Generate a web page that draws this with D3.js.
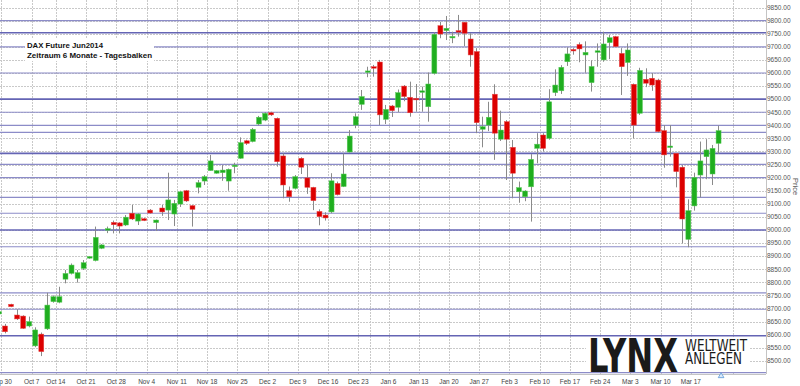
<!DOCTYPE html>
<html>
<head>
<meta charset="utf-8">
<script src="https://cdn.jsdelivr.net/npm/d3@7"></script>
<style>
  body { margin: 0; background: #fff; }
  svg { display: block; }
</style>
</head>
<body>
<div id="chart"></div>
<script>
// trading days shown (Sep 27 is cut at the left edge)
var dates = ["Sep 27","Sep 30","Oct 1","Oct 2","Oct 3","Oct 4","Oct 7","Oct 8","Oct 9","Oct 10",
  "Oct 14","Oct 15","Oct 16","Oct 17","Oct 18","Oct 21","Oct 22","Oct 23","Oct 24","Oct 25",
  "Oct 28","Oct 29","Oct 30","Oct 31","Nov 1","Nov 4","Nov 5","Nov 6","Nov 7","Nov 8",
  "Nov 11","Nov 12","Nov 13","Nov 14","Nov 15","Nov 18","Nov 19","Nov 20","Nov 21","Nov 22",
  "Nov 25","Nov 26","Nov 27","Nov 28","Nov 29","Dec 2","Dec 3","Dec 4","Dec 5","Dec 6",
  "Dec 9","Dec 10","Dec 11","Dec 12","Dec 13","Dec 16","Dec 17","Dec 18","Dec 19","Dec 20",
  "Dec 23","Dec 27","Dec 30","Jan 2","Jan 3","Jan 6","Jan 7","Jan 8","Jan 9","Jan 10",
  "Jan 13","Jan 14","Jan 15","Jan 16","Jan 17","Jan 20","Jan 21","Jan 22","Jan 23","Jan 24",
  "Jan 27","Jan 28","Jan 29","Jan 30","Jan 31","Feb 3","Feb 4","Feb 5","Feb 6","Feb 7",
  "Feb 10","Feb 11","Feb 12","Feb 13","Feb 14","Feb 17","Feb 18","Feb 19","Feb 20","Feb 21",
  "Feb 24","Feb 25","Feb 26","Feb 27","Feb 28","Mar 3","Mar 4","Mar 5","Mar 6","Mar 7",
  "Mar 10","Mar 11","Mar 12","Mar 13","Mar 14","Mar 17","Mar 18","Mar 19","Mar 20","Mar 21"];

var open = [8679,8633,8716,8675,8671,8633,8557,8602,8622,8726,
  8724,8812,8834,8815,8853,8893,8883,8930,9002,9029,
  9027,9019,9064,9034,9043,9076,9028,9084,9076,9061,
  9099,9150,9093,9163,9187,9227,9217,9219,9187,9242,
  9274,9341,9338,9405,9420,9448,9427,9283,9150,9159,
  9274,9199,9163,9071,9057,9069,9178,9166,9298,9401,
  9480,9603,9624,9642,9423,9474,9469,9550,9507,9503,
  9526,9471,9599,9781,9762,9734,9762,9794,9730,9682,
  9385,9401,9519,9347,9414,9316,9146,9127,9165,9312,
  9363,9350,9525,9532,9643,9690,9709,9669,9563,9679,
  9650,9716,9739,9675,9640,9557,9446,9576,9580,9573,
  9380,9316,9293,9240,8964,9092,9210,9280,9214,9331];

var high = [8695,8641,8718,8697,8674,8669,8628,8608,8760,8750,
  8783,8847,8872,8847,8885,8900,9013,8946,9013,9036,
  9030,9057,9096,9064,9046,9080,9040,9096,9219,9115,
  9150,9153,9095,9191,9210,9287,9229,9248,9235,9257,
  9354,9345,9390,9436,9450,9452,9430,9293,9166,9210,
  9278,9252,9165,9079,9068,9217,9185,9293,9382,9446,
  9535,9624,9631,9650,9478,9478,9537,9554,9567,9558,
  9548,9602,9756,9796,9818,9758,9822,9796,9752,9695,
  9433,9490,9557,9456,9420,9344,9185,9152,9290,9370,
  9370,9538,9614,9630,9698,9695,9717,9721,9648,9713,
  9758,9745,9742,9695,9713,9560,9620,9618,9600,9578,
  9401,9401,9293,9248,9117,9219,9338,9347,9325,9399];

var low = [8672,8605,8705,8656,8622,8628,8552,8518,8618,8722,
  8720,8796,8830,8799,8847,8890,8880,8927,8988,8987,
  8987,9015,9038,9019,9034,9062,8996,9054,9038,9015,
  9088,9107,9013,9140,9172,9227,9215,9188,9150,9217,
  9272,9325,9335,9400,9416,9436,9242,9121,9108,9155,
  9214,9138,9076,9018,9036,9064,9132,9164,9296,9389,
  9459,9584,9586,9401,9405,9432,9450,9492,9433,9452,
  9452,9414,9594,9733,9726,9714,9739,9703,9624,9370,
  9316,9378,9268,9340,9191,9121,9104,9110,9032,9255,
  9300,9345,9512,9520,9627,9670,9641,9601,9529,9624,
  9643,9653,9700,9516,9589,9350,9440,9546,9532,9372,
  9238,9280,9163,8949,8934,9074,9125,9194,9172,9291];

var close = [8688,8611,8707,8660,8624,8650,8618,8535,8713,8745,
  8745,8834,8866,8837,8875,8898,8972,8943,9005,9020,
  9015,9049,9042,9061,9036,9065,9038,9069,9115,9102,
  9146,9111,9079,9181,9204,9264,9227,9229,9232,9248,
  9334,9331,9385,9431,9446,9440,9261,9172,9127,9204,
  9240,9163,9112,9051,9046,9188,9135,9214,9359,9433,
  9510,9608,9619,9440,9461,9456,9525,9510,9448,9500,
  9532,9558,9748,9749,9771,9740,9757,9752,9669,9410,
  9395,9431,9370,9382,9347,9217,9162,9149,9270,9328,
  9312,9490,9554,9622,9673,9685,9692,9679,9625,9685,
  9711,9735,9701,9624,9688,9401,9610,9561,9554,9376,
  9287,9321,9223,9042,9074,9201,9264,9306,9312,9380];

var dateTicks = ["Sep 30","Oct 7","Oct 14","Oct 21","Oct 28","Nov 4","Nov 11","Nov 18","Nov 25",
  "Dec 2","Dec 9","Dec 16","Dec 23","Jan 6","Jan 13","Jan 20","Jan 27","Feb 3","Feb 10",
  "Feb 17","Feb 24","Mar 3","Mar 10","Mar 17"];
var priceTicks = [8500,8550,8600,8650,8700,8750,8800,8850,8900,8950,9000,9050,9100,9150,
  9200,9250,9300,9350,9400,9450,9500,9550,9600,9650,9700,9750,9800,9850];

// support / resistance lines
var levels = [9800,9754,9700,9600,9500,9450,9400,9373,9293,9251,9200,9125,9064,9000,8936,8760,8697,8596,8455];
var strongLevels = [9754,9500,9293,9000,8596];

var width = 800, height = 386,
    plotRight = 766, plotBottom = 374;

var svg = d3.select("#chart").append("svg")
    .attr("width", width)
    .attr("height", height)
    .style("font-family", "'Liberation Sans', Arial, sans-serif");

// day index -> left edge of the day's slot
var x = d3.scaleLinear().domain([0, dates.length - 1]).range([-4.55, 715.05]);
var slot = x(1) - x(0);
var y = d3.scaleLinear().domain([8500, 9850]).range([360.8, 7.6]);

// dotted price grid
svg.append("g").selectAll("line")
  .data(priceTicks)
  .enter().append("line")
    .attr("x1", 0).attr("x2", plotRight)
    .attr("y1", function(d) { return Math.round(y(d)) + 0.5; })
    .attr("y2", function(d) { return Math.round(y(d)) + 0.5; })
    .attr("stroke", "#c9c9c9")
    .attr("stroke-dasharray", "2,1");

// dotted week grid (+ year end and right-side grid line)
var gridIdx = dateTicks.map(function(d) { return dates.indexOf(d); });
gridIdx.push(dates.indexOf("Dec 30"), dates.length + 2);
svg.append("g").selectAll("line")
  .data(gridIdx)
  .enter().append("line")
    .attr("x1", function(d) { return Math.round(x(d)) + 0.5; })
    .attr("x2", function(d) { return Math.round(x(d)) + 0.5; })
    .attr("y1", 0).attr("y2", plotBottom)
    .attr("stroke", "#c9c9c9")
    .attr("stroke-dasharray", "2,1");

// blue horizontal levels
svg.append("g").selectAll("line")
  .data(levels)
  .enter().append("line")
    .attr("x1", 0).attr("x2", plotRight)
    .attr("y1", function(d) { return y(d); })
    .attr("y2", function(d) { return y(d); })
    .attr("stroke", function(d) { return strongLevels.indexOf(d) >= 0 ? "#6464b4" : "#8c8cc8"; })
    .attr("stroke-width", function(d) { return strongLevels.indexOf(d) >= 0 ? 1.6 : 1.2; });

// frame
svg.append("line").attr("x1", plotRight + 0.5).attr("x2", plotRight + 0.5)
    .attr("y1", 0).attr("y2", plotBottom).attr("stroke", "#c4c4c4");
svg.append("line").attr("x1", 0).attr("x2", plotRight)
    .attr("y1", plotBottom + 0.5).attr("y2", plotBottom + 0.5).attr("stroke", "#c4c4c4");

// candles
var candles = svg.append("g").selectAll("g")
  .data(dates.map(function(d, i) {
    return { date: d, i: i, o: open[i], h: high[i], l: low[i], c: close[i] };
  }))
  .enter().append("g");

candles.append("line")
    .attr("x1", function(d) { return Math.round(x(d.i + 0.5)) + 0.5; })
    .attr("x2", function(d) { return Math.round(x(d.i + 0.5)) + 0.5; })
    .attr("y1", function(d) { return y(d.h); })
    .attr("y2", function(d) { return y(d.l); })
    .attr("stroke", "#8a8a8a");

var bodyW = slot * 0.82;
candles.append("rect")
    .attr("x", function(d) { return x(d.i + 0.5) - bodyW / 2 + 0.5; })
    .attr("width", bodyW)
    .attr("y", function(d) { return y(Math.max(d.o, d.c)); })
    .attr("height", function(d) { return Math.max(1.5, Math.abs(y(d.o) - y(d.c))); })
    .attr("fill", function(d) { return d.c >= d.o ? "#1fae1f" : "#dc0000"; })
    .attr("stroke", function(d) { return d.c >= d.o ? "#5ccc5c" : "#e84a4a"; })
    .attr("stroke-width", 0.5);

// price labels
svg.append("g").selectAll("text")
  .data(priceTicks)
  .enter().append("text")
    .attr("x", 767)
    .attr("y", function(d) { return y(d); })
    .attr("dy", "0.35em")
    .attr("font-size", 6.5)
    .attr("fill", "#555")
    .text(function(d) { return d3.format(".2f")(d); });

svg.append("text")
    .attr("transform", "translate(793,178) rotate(90)")
    .attr("font-size", 7.5)
    .attr("fill", "#555")
    .text("Price");

// date labels
svg.append("g").selectAll("text")
  .data(dateTicks)
  .enter().append("text")
    .attr("x", function(d) { return x(dates.indexOf(d)); })
    .attr("y", 383.5)
    .attr("text-anchor", "middle")
    .attr("font-size", 6.5)
    .attr("fill", "#444")
    .text(function(d) { return d; });

// current-bar marker
svg.append("path")
    .attr("d", d3.symbol().type(d3.symbolTriangle).size(14))
    .attr("transform", "translate(" + x(dates.length) + ",376)")
    .attr("fill", "#dce9f8")
    .attr("stroke", "#5a98d8")
    .attr("stroke-width", 0.8);

// title box
svg.append("rect").attr("x", 25).attr("y", 38).attr("width", 129).attr("height", 23).attr("fill", "#fff");
svg.append("text").attr("x", 27).attr("y", 48.3)
    .attr("font-size", 8).attr("font-weight", "bold").attr("fill", "#111")
    .attr("textLength", 76).attr("lengthAdjust", "spacingAndGlyphs")
    .text("DAX Future Jun2014");
svg.append("text").attr("x", 27).attr("y", 58.3)
    .attr("font-size", 8).attr("font-weight", "bold").attr("fill", "#111")
    .attr("textLength", 125).attr("lengthAdjust", "spacingAndGlyphs")
    .text("Zeitraum 6 Monate - Tagesbalken");

// LYNX logo
svg.append("rect").attr("x", 586).attr("y", 337).attr("width", 163).attr("height", 35).attr("fill", "#fff");
svg.append("text").attr("x", 588).attr("y", 372)
    .attr("font-family", "'Liberation Sans Narrow', 'DejaVu Sans Condensed', sans-serif")
    .attr("font-size", 47).attr("font-weight", "bold").attr("fill", "#1a1a1a")
    .attr("textLength", 90).attr("lengthAdjust", "spacingAndGlyphs")
    .text("LYNX");
svg.append("text").attr("x", 685).attr("y", 350.5)
    .attr("font-family", "'Liberation Sans Narrow', 'DejaVu Sans Condensed', sans-serif")
    .attr("font-size", 16.5).attr("fill", "#1a1a1a")
    .attr("textLength", 62).attr("lengthAdjust", "spacingAndGlyphs")
    .text("WELTWEIT");
svg.append("text").attr("x", 685).attr("y", 364)
    .attr("font-family", "'Liberation Sans Narrow', 'DejaVu Sans Condensed', sans-serif")
    .attr("font-size", 16.5).attr("fill", "#1a1a1a")
    .attr("textLength", 57).attr("lengthAdjust", "spacingAndGlyphs")
    .text("ANLEGEN");
</script>
</body>
</html>
